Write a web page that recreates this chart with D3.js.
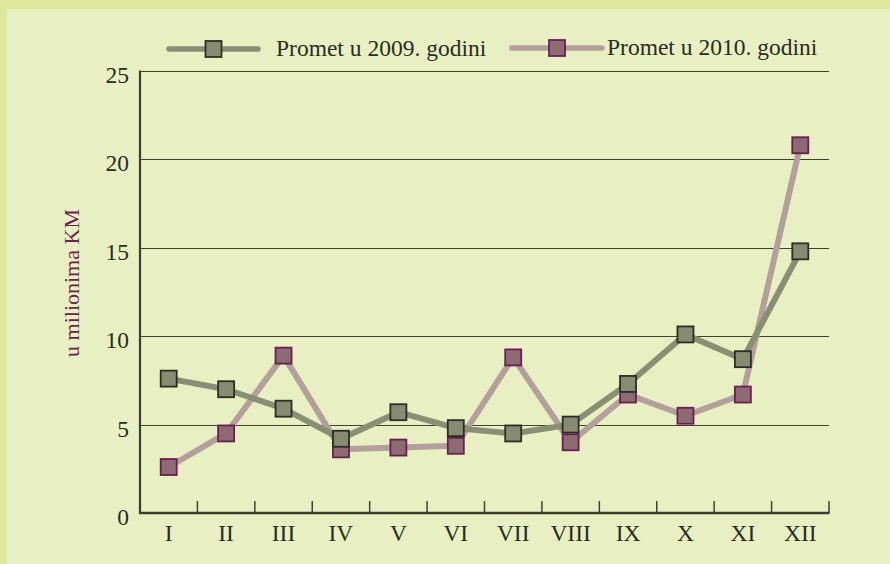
<!doctype html>
<html lang="hr">
<head>
    <meta charset="utf-8">
    <title>Promet</title>
    <script src="https://d3js.org/d3.v7.min.js"></script>
    <style type="text/css">
    body { margin: 0; background: #dfe79a; }
    text { font-family: "Liberation Serif", "DejaVu Serif", serif; fill: #2a2c22; }
    </style>
</head>

<body>
</body>

<script type="text/javascript">

    var months = ["I","II","III","IV","V","VI","VII","VIII","IX","X","XI","XII"];
    var promet2009 = [7.6, 7.0, 5.9, 4.2, 5.7, 4.8, 4.5, 5.0, 7.3, 10.1, 8.7, 14.8];
    var promet2010 = [2.6, 4.5, 8.9, 3.6, 3.7, 3.8, 8.8, 4.0, 6.7, 5.5, 6.7, 20.8];
    var yTicks = [0, 5, 10, 15, 20, 25];
    var seriesNames = ["Promet u 2009. godini", "Promet u 2010. godini"];

    var W = 890, H = 564;
    var margin = {top:71, bottom:51, left:140, right:61};

    var svg = d3.select("body")
    .append("svg")
    .attr("width", W)
    .attr("height", H);

    // frame: light band top + left, paler panel
    svg.append("rect").attr("width", W).attr("height", H).attr("fill", "#dfe79a");
    svg.append("rect").attr("x", 7).attr("y", 9).attr("width", W - 7).attr("height", H - 9).attr("fill", "#e8f0c3");

    var xScale = d3.scaleBand()
                .domain(months)
                .range([margin.left, W - margin.right])
                .padding(0);

    var yScale = d3.scaleLinear()
                  .domain([0, 25])
                  .range([H - margin.bottom, margin.top]);

    // grid
    svg.append("g")
    .selectAll("line")
    .data(yTicks.slice(1))
    .enter()
    .append("line")
    .attr("x1", margin.left)
    .attr("x2", W - margin.right)
    .attr("y1", d => Math.round(yScale(d)) + 0.5)
    .attr("y2", d => Math.round(yScale(d)) + 0.5)
    .attr("stroke", "#3f4233")
    .attr("stroke-width", 1.2);

    // y labels
    svg.append("g")
    .selectAll("text")
    .data(yTicks)
    .enter()
    .append("text")
    .attr("x", 129)
    .attr("y", d => yScale(d) + 12)
    .attr("text-anchor", "end")
    .style("font-size", "23.5px")
    .text(d => d);

    // x ticks at band edges
    svg.append("g")
    .selectAll("line")
    .data(months)
    .enter()
    .append("line")
    .attr("x1", d => xScale(d) + xScale.bandwidth())
    .attr("x2", d => xScale(d) + xScale.bandwidth())
    .attr("y1", yScale(0))
    .attr("y2", yScale(0) - 12)
    .attr("stroke", "#3f4233")
    .attr("stroke-width", 1.5);

    // x labels
    svg.append("g")
    .selectAll("text")
    .data(months)
    .enter()
    .append("text")
    .attr("x", d => xScale(d) + xScale.bandwidth() / 2)
    .attr("y", yScale(0) + 28)
    .attr("text-anchor", "middle")
    .style("font-size", "23.5px")
    .text(d => d);

    // axes lines
    svg.append("line")
    .attr("x1", margin.left).attr("x2", margin.left)
    .attr("y1", margin.top - 0.5).attr("y2", yScale(0) + 1)
    .attr("stroke", "#3a3d2e").attr("stroke-width", 2.2);
    svg.append("line")
    .attr("x1", margin.left - 1).attr("x2", W - margin.right + 0.5)
    .attr("y1", yScale(0)).attr("y2", yScale(0))
    .attr("stroke", "#3a3d2e").attr("stroke-width", 2.5);

    // y title
    svg.append("text")
    .attr("transform", "translate(79,283) rotate(-90)")
    .attr("text-anchor", "middle")
    .style("font-size", "22px")
    .style("fill", "#6b1f52")
    .text("u milionima KM");

    var styles = [
      {line:"#8a8f74", fill:"#878b71", stroke:"#2b2e24", data:promet2009},
      {line:"#b3a09a", fill:"#8d6a74", stroke:"#6a1f50", data:promet2010}
    ];

    var line = d3.line()
    .x((d, i) => xScale(months[i]) + xScale.bandwidth() / 2)
    .y(d => yScale(d));

    // 2010 first, 2009 on top
    [1, 0].forEach(function(k) {
      var s = styles[k];
      var g = svg.append("g");
      g.append("path")
      .datum(s.data)
      .attr("d", line)
      .attr("fill", "none")
      .attr("stroke", s.line)
      .attr("stroke-width", 6)
      .attr("stroke-linejoin", "round");

      g.selectAll("rect")
      .data(s.data)
      .enter()
      .append("rect")
      .attr("x", (d, i) => xScale(months[i]) + xScale.bandwidth() / 2 - 8)
      .attr("y", d => yScale(d) - 8)
      .attr("width", 16)
      .attr("height", 16)
      .attr("fill", s.fill)
      .attr("stroke", s.stroke)
      .attr("stroke-width", 1.8);
    });

    // legend
    var legendPos = [{x1:169, x2:258, y:49, tx:276}, {x1:512, x2:602, y:48, tx:607}];
    var legend = svg.append("g")
    .selectAll("g")
    .data(seriesNames)
    .enter()
    .append("g");

    legend.append("line")
    .attr("x1", (d, i) => legendPos[i].x1)
    .attr("x2", (d, i) => legendPos[i].x2)
    .attr("y1", (d, i) => legendPos[i].y)
    .attr("y2", (d, i) => legendPos[i].y)
    .attr("stroke", (d, i) => styles[i].line)
    .attr("stroke-width", 5.5)
    .attr("stroke-linecap", "round");

    legend.append("rect")
    .attr("x", (d, i) => (legendPos[i].x1 + legendPos[i].x2) / 2 - 8)
    .attr("y", (d, i) => legendPos[i].y - 8)
    .attr("width", 16)
    .attr("height", 16)
    .attr("fill", (d, i) => styles[i].fill)
    .attr("stroke", (d, i) => styles[i].stroke)
    .attr("stroke-width", 1.8);

    legend.append("text")
    .attr("x", (d, i) => legendPos[i].tx)
    .attr("y", (d, i) => legendPos[i].y + 7)
    .style("font-size", "23.5px")
    .text(d => d);

</script>
</html>
